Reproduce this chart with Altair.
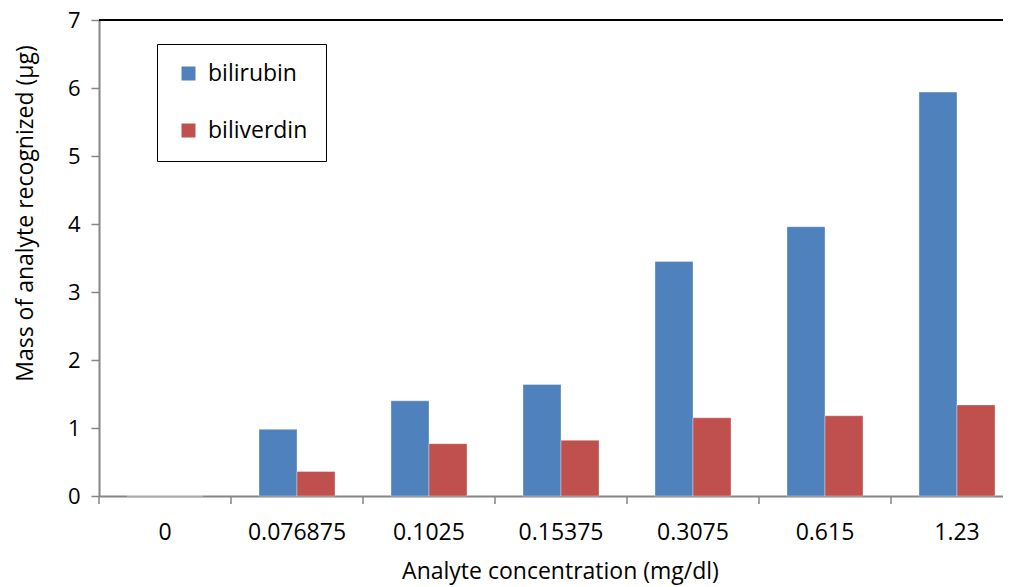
import altair as alt
import pandas as pd

categories = ["0", "0.076875", "0.1025", "0.15375", "0.3075", "0.615", "1.23"]
series_names = ["bilirubin", "biliverdin"]
bilirubin = [0, 0.98, 1.40, 1.64, 3.45, 3.96, 5.94]
biliverdin = [0, 0.36, 0.77, 0.82, 1.15, 1.18, 1.34]
y_ticks = [0, 1, 2, 3, 4, 5, 6, 7]
colors = ["#4F81BD", "#C0504D"]

rows = []
for i, c in enumerate(categories):
    rows.append({"conc": c, "series": series_names[0], "value": bilirubin[i]})
    rows.append({"conc": c, "series": series_names[1], "value": biliverdin[i]})
df = pd.DataFrame(rows)
cat_df = pd.DataFrame({"conc": categories})

W, H = 904, 476
FONT = "Open Sans"
GRAY = "#868686"

xscale = alt.Scale(domain=categories, range=[0, 924], paddingInner=0.424, paddingOuter=0.212)
tick_scale = alt.Scale(domain=categories, range=[0, 924], paddingInner=0, paddingOuter=0)

bars = alt.Chart(df).mark_bar(stroke="#ffffff", strokeOpacity=0.35, strokeWidth=1).encode(
    x=alt.X("conc:N", sort=categories, scale=xscale,
            axis=alt.Axis(title="Analyte concentration (mg/dl)", labelAngle=0, ticks=False,
                          domainColor=GRAY, domainWidth=2, labelFontSize=23, labelFont=FONT,
                          labelColor="black", labelPadding=25,
                          titleFontSize=23, titleFont=FONT, titleFontWeight="normal",
                          titleColor="black", titleX=461, titleY=75, titleBaseline="middle")),
    xOffset=alt.XOffset("series:N", sort=series_names, scale=alt.Scale(paddingInner=0, paddingOuter=0)),
    y=alt.Y("value:Q", scale=alt.Scale(domain=[0, 7], nice=False),
            axis=alt.Axis(title="Mass of analyte recognized (µg)", values=y_ticks, grid=False,
                          domainColor=GRAY, domainWidth=2, tickColor=GRAY, tickSize=8, tickWidth=1.5,
                          labelFontSize=22, labelFont=FONT, labelColor="black", labelPadding=11,
                          titleFontSize=23, titleFont=FONT, titleFontWeight="normal",
                          titleColor="black", titleX=-74, titleY=193, titleBaseline="middle",
                          titleAngle=270)),
    color=alt.Color("series:N", sort=series_names,
                    scale=alt.Scale(domain=series_names, range=colors),
                    legend=alt.Legend(title=None, orient="none", legendX=58, legendY=24,
                                      strokeColor="black", fillColor="white",
                                      padding=18, rowPadding=33, symbolType="square",
                                      symbolSize=196, symbolStrokeWidth=0, labelFontSize=23,
                                      labelFont=FONT, labelColor="black", labelOffset=8,
                                      symbolOffset=2, symbolOpacity=1)),
)

xticks = alt.Chart(cat_df).mark_rule(color=GRAY, strokeWidth=1.5).encode(
    x=alt.X("conc:N", sort=categories, scale=tick_scale, bandPosition=0, axis=None),
    y=alt.value(H),
    y2=alt.value(H + 8),
)

top_line = alt.Chart(cat_df).mark_rule(color="black", strokeWidth=1.5).encode(
    x=alt.value(0), x2=alt.value(924), y=alt.value(0)
)

chart = alt.layer(bars, xticks, top_line).resolve_scale(x="independent").properties(
    width=W, height=H,
    autosize=alt.AutoSizeParams(type="none"),
    padding={"left": 91, "top": 12, "right": 0, "bottom": 91},
).configure_view(stroke=None).configure(font=FONT)

chart.save("out.html", embed_options={"renderer": "svg", "actions": False})
